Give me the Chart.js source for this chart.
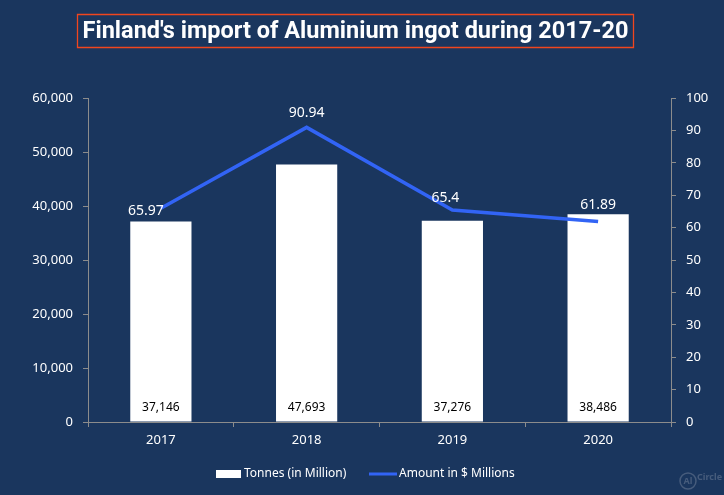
<!DOCTYPE html>
<html>
<head>
<meta charset="utf-8">
<script src="https://cdn.jsdelivr.net/npm/chart.js@4"></script>
<style>
  html, body { margin:0; padding:0; background:#1a365e; }
  #wrap { width:724px; height:495px; position:relative; }
</style>
</head>
<body>
<div id="wrap"><canvas id="c" width="724" height="495"></canvas></div>
<script>
const categories = ['2017', '2018', '2019', '2020'];
const tonnes = [37146, 47693, 37276, 38486];
const amountMillions = [65.97, 90.94, 65.4, 61.89];
const titleText = "Finland's import of Aluminium ingot during 2017-20";
const seriesNames = ['Tonnes (in Million)', 'Amount in $ Millions'];

const BG = '#1a365e';
const AXIS = '#8c8c8c';
const LINE = '#3264f5';
const FONT = 'Noto Sans';

const fmt = v => Number(v).toLocaleString('en-US');

const decor = {
  id: 'decor',
  beforeDraw(chart) {
    const ctx = chart.ctx;
    ctx.save();
    ctx.fillStyle = BG;
    ctx.fillRect(0, 0, chart.width, chart.height);
    ctx.restore();
  },
  afterDraw(chart) {
    const ctx = chart.ctx;
    ctx.save();
    // Title with box
    let size = 24;
    ctx.font = `bold ${size}px Roboto`;
    let w = ctx.measureText(titleText).width;
    size = size * 546 / w;
    ctx.font = `bold ${size}px Roboto`;
    ctx.fillStyle = '#ffffff';
    ctx.textAlign = 'center';
    ctx.textBaseline = 'middle';
    ctx.fillText(titleText, 355.5, 32);
    ctx.strokeStyle = '#f0461e';
    ctx.lineWidth = 1.3;
    ctx.beginPath();
    ctx.rect(77.5, 14.5, 556, 33);
    ctx.stroke();

    // Legend
    ctx.font = `12px "${FONT}"`;
    ctx.textAlign = 'left';
    ctx.textBaseline = 'middle';
    ctx.fillStyle = '#ffffff';
    ctx.fillRect(216, 470, 25, 8);
    ctx.fillText(seriesNames[0], 244, 474);
    ctx.strokeStyle = LINE;
    ctx.lineWidth = 3;
    ctx.beginPath();
    ctx.moveTo(369, 474);
    ctx.lineTo(397, 474);
    ctx.stroke();
    ctx.fillStyle = '#ffffff';
    ctx.fillText(seriesNames[1], 399, 474);

    // faint logo
    ctx.globalAlpha = 0.35;
    ctx.strokeStyle = '#9aa4b4';
    ctx.lineWidth = 1.5;
    ctx.beginPath();
    ctx.arc(688, 481, 8, 0, Math.PI * 2);
    ctx.stroke();
    ctx.fillStyle = '#9aa4b4';
    ctx.font = `bold 9px "${FONT}"`;
    ctx.textAlign = 'center';
    ctx.fillText('Al', 688, 481);
    ctx.font = `bold 9px "${FONT}"`;
    ctx.textAlign = 'left';
    ctx.fillText('Circle', 697, 477);
    ctx.restore();
  },
  afterDatasetsDraw(chart) {
    const ctx = chart.ctx;
    ctx.save();
    ctx.textAlign = 'center';
    ctx.textBaseline = 'middle';
    // bar labels
    const barMeta = chart.getDatasetMeta(1);
    ctx.font = `12px "${FONT}"`;
    ctx.fillStyle = '#000000';
    barMeta.data.forEach((el, i) => {
      ctx.fillText(fmt(tonnes[i]), el.x, 408);
    });
    // line labels
    const lineMeta = chart.getDatasetMeta(0);
    ctx.font = `14px "${FONT}"`;
    ctx.fillStyle = '#ffffff';
    const offs = [[-15, 3], [0, -14], [-7, -12], [0, -16]];
    lineMeta.data.forEach((el, i) => {
      ctx.fillText(String(amountMillions[i]), el.x + offs[i][0], el.y + offs[i][1]);
    });
    ctx.restore();
  }
};

const tickFont = { family: FONT, size: 13 };

new Chart(document.getElementById('c'), {
  type: 'bar',
  data: {
    labels: categories,
    datasets: [
      {
        type: 'line',
        label: seriesNames[1],
        data: amountMillions,
        yAxisID: 'y1',
        borderColor: LINE,
        backgroundColor: LINE,
        borderWidth: 3.5,
        pointRadius: 0,
        tension: 0,
        order: 0
      },
      {
        type: 'bar',
        label: seriesNames[0],
        data: tonnes,
        yAxisID: 'y',
        backgroundColor: '#ffffff',
        borderWidth: 0,
        categoryPercentage: 1,
        barPercentage: 0.42,
        order: 1
      }
    ]
  },
  options: {
    responsive: false,
    animation: false,
    layout: { padding: { top: 98, left: 0, right: 0, bottom: 0 } },
    plugins: {
      legend: { display: false },
      title: { display: false },
      tooltip: { enabled: false }
    },
    scales: {
      x: {
        afterFit(s) { s.height = 73; },
        grid: { display: true, drawOnChartArea: false, drawTicks: true, tickLength: 5, color: AXIS, offset: true },
        border: { display: true, color: AXIS, width: 1 },
        ticks: { color: '#ffffff', font: tickFont, padding: 5 }
      },
      y: {
        position: 'left',
        min: 0, max: 60000,
        afterFit(s) { s.width = 88; },
        grid: { display: true, drawOnChartArea: false, drawTicks: true, tickLength: 5, color: AXIS },
        border: { display: true, color: AXIS, width: 1 },
        ticks: { stepSize: 10000, color: '#ffffff', font: tickFont, padding: 10, callback: v => fmt(v) }
      },
      y1: {
        position: 'right',
        min: 0, max: 100,
        afterFit(s) { s.width = 53; },
        grid: { display: true, drawOnChartArea: false, drawTicks: true, tickLength: 5, color: AXIS },
        border: { display: true, color: AXIS, width: 1 },
        ticks: { stepSize: 10, color: '#ffffff', font: tickFont, padding: 10 }
      }
    }
  },
  plugins: [decor]
});
</script>
</body>
</html>
